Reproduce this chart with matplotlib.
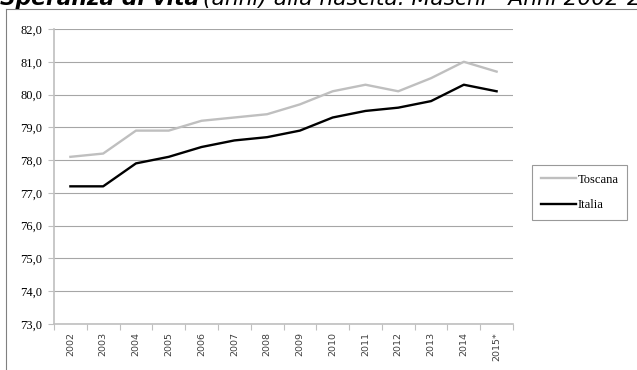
import matplotlib
matplotlib.use("Agg")
import matplotlib.pyplot as plt
from matplotlib.lines import Line2D

anni = ["2002", "2003", "2004", "2005", "2006", "2007", "2008",
        "2009", "2010", "2011", "2012", "2013", "2014", "2015*"]
toscana = [78.1, 78.2, 78.9, 78.9, 79.2, 79.3, 79.4, 79.7, 80.1, 80.3, 80.1, 80.5, 81.0, 80.7]
italia = [77.2, 77.2, 77.9, 78.1, 78.4, 78.6, 78.7, 78.9, 79.3, 79.5, 79.6, 79.8, 80.3, 80.1]
y_ticks = [73.0, 74.0, 75.0, 76.0, 77.0, 78.0, 79.0, 80.0, 81.0, 82.0]

W, H = 637, 370
fig = plt.figure(figsize=(W / 100, H / 100), dpi=100)

# outer frame of the chart object (only left and top edges show)
fig.add_artist(Line2D([5.5 / W, 5.5 / W], [0, 1 - 9 / H], color="#808080", lw=0.8))
fig.add_artist(Line2D([5.5 / W, 1], [1 - 9 / H, 1 - 9 / H], color="#808080", lw=0.8))

# title, partly cut off at the top of the page
t1 = fig.text(0, 1 - 5 / H, "Speranza di vita", fontsize=15.7, fontweight="bold",
              fontstyle="italic", family="DejaVu Sans", va="baseline", ha="left")
fig.canvas.draw()
ext = t1.get_window_extent()
fig.text(ext.x1 / W + 4 / W, 1 - 5 / H, "(anni) alla nascita. Maschi - Anni 2002-2015",
         fontsize=15.7, fontstyle="italic", family="DejaVu Sans", va="baseline", ha="left")

x0, x1 = 54 / W, 513 / W
y0, y1 = 1 - 324 / H, 1 - 29 / H
ax = fig.add_axes([x0, y0, x1 - x0, y1 - y0])

xs = list(range(len(anni)))
ax.plot(xs, toscana, color="#bfbfbf", lw=1.7, label="Toscana")
ax.plot(xs, italia, color="black", lw=1.7, label="Italia")

ax.set_xlim(-0.5, len(anni) - 0.5)
ax.set_ylim(73, 82)
ax.set_yticks(y_ticks)
ax.set_yticklabels([f"{v:.1f}".replace(".", ",") for v in y_ticks],
                   family="Liberation Serif", fontsize=9)
ax.set_xticks(xs)
ax.set_xticklabels(anni, rotation=90, family="DejaVu Sans", fontsize=6.8)
ax.set_xticks([i - 0.5 for i in range(len(anni) + 1)], minor=True)
ax.tick_params(axis="x", which="major", length=0, pad=6, colors="#404040")
ax.tick_params(axis="x", which="minor", length=4, color="#bfbfbf", width=0.8)
ax.tick_params(axis="y", length=4, color="#bfbfbf", width=0.8, pad=4.5)

ax.grid(axis="y", color="#a6a6a6", lw=0.8)
ax.set_axisbelow(True)
for s in ["top", "right"]:
    ax.spines[s].set_visible(False)
for s in ["left", "bottom"]:
    ax.spines[s].set_color("#bfbfbf")
    ax.spines[s].set_linewidth(1.2)

leg = ax.legend(loc="upper left", bbox_to_anchor=(532 / W, 1 - 165 / H),
                bbox_transform=fig.transFigure, prop={"family": "Liberation Serif", "size": 9},
                frameon=True, fancybox=False, handlelength=2.8, handletextpad=0.15,
                borderpad=0.7, labelspacing=1.05, borderaxespad=0)
leg.get_frame().set_edgecolor("#808080")
leg.get_frame().set_linewidth(0.8)

fig.savefig("out.png", dpi=100)
